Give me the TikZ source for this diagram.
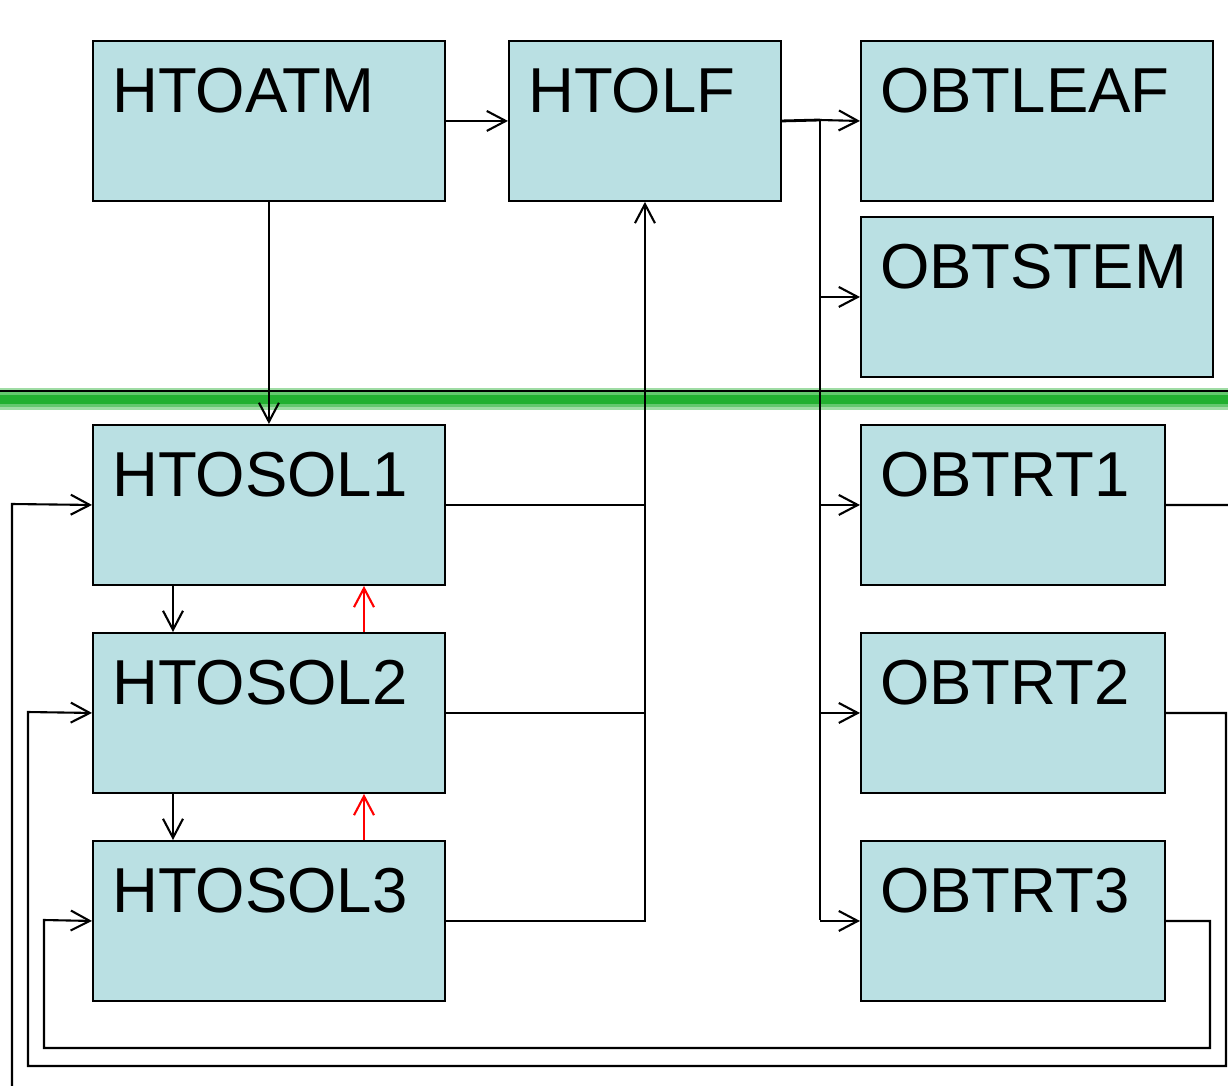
\documentclass[tikz,border=0pt]{standalone}
\usepackage{fontspec}
\setmainfont{Liberation Sans}
\usetikzlibrary{arrows.meta,calc}
\definecolor{boxfill}{RGB}{186,224,227}
\definecolor{gline}{RGB}{34,176,48}
\definecolor{glight}{RGB}{160,220,165}
\tikzset{
  box/.style={draw=black, line width=1.9pt, fill=boxfill, anchor=north west, inner sep=0pt, minimum height=160pt},
  wide/.style={box, minimum width=352pt},
  mid/.style={box, minimum width=272pt},
  narrow/.style={box, minimum width=304pt},
  lbl/.style={anchor=base west, inner sep=0pt, font=\fontsize{63.5}{76}\selectfont},
  conn/.style={line width=2.1pt, draw=black},
  arr/.style={conn, -{Straight Barb[length=19pt,width=20pt,line width=2.1pt]}},
  redarr/.style={arr, draw=red},
  bus/.style={line width=2.8pt, draw=black},
}
\begin{document}
\begin{tikzpicture}[x=1pt,y=-1pt]
\useasboundingbox (0,0) rectangle (1228,1085);
\clip (0,0) rectangle (1228,1085);
% ground line
\fill[glight] (0,388) rectangle (1228,410);
\fill[gline!70!white] (0,392) rectangle (1228,407);
\fill[gline] (0,395) rectangle (1228,404);
\draw[line width=2pt] (0,391) -- (1228,391);
% boxes
\node[wide] (atm) at (92,40) {};
\node[mid] (lf) at (508,40) {};
\node[wide] (leaf) at (860,40) {};
\node[wide] (stem) at (860,216) {};
\node[wide] (sol1) at (92,424) {};
\node[wide] (sol2) at (92,632) {};
\node[wide] (sol3) at (92,840) {};
\node[narrow] (rt1) at (860,424) {};
\node[narrow] (rt2) at (860,632) {};
\node[narrow] (rt3) at (860,840) {};
% labels
\node[lbl] (atmL) at ($(atm.north west)+(20,72)$) {HTOATM};
\node[lbl] (lfL) at ($(lf.north west)+(20,72)$) {HTOLF};
\node[lbl] (leafL) at ($(leaf.north west)+(20,72)$) {OBTLEAF};
\node[lbl] (stemL) at ($(stem.north west)+(20,72)$) {OBTSTEM};
\node[lbl] (sol1L) at ($(sol1.north west)+(20,72)$) {HTOSOL1};
\node[lbl] (sol2L) at ($(sol2.north west)+(20,72)$) {HTOSOL2};
\node[lbl] (sol3L) at ($(sol3.north west)+(20,72)$) {HTOSOL3};
\node[lbl] (rt1L) at ($(rt1.north west)+(20,72)$) {OBTRT1};
\node[lbl] (rt2L) at ($(rt2.north west)+(20,72)$) {OBTRT2};
\node[lbl] (rt3L) at ($(rt3.north west)+(20,72)$) {OBTRT3};
% top connectors
\draw[arr] (atm.east) -- (lf.west);
\draw[arr] (atm.south) -- (sol1.north);
\coordinate (busT) at (820,120);
\draw[bus] (lf.east) -- (busT);
\draw[arr] (busT) -- (leaf.west);
\draw[bus] (busT) -- (820,920);
\draw[arr] (stem.west -| busT) -- (stem.west);
\draw[arr] (rt1.west -| busT) -- (rt1.west);
\draw[arr] (rt2.west -| busT) -- (rt2.west);
\draw[arr] (rt3.west -| busT) -- (rt3.west);
% soil to HTOLF
\draw[arr] (sol3.east) -| (lf.south);
\draw[conn] (sol1.east) -- (sol1.east -| lf.south);
\draw[conn] (sol2.east) -- (sol2.east -| lf.south);
% between soil layers
\draw[arr] ([xshift=81pt]sol1.south west) -- ([xshift=81pt]sol2.north west);
\draw[arr] ([xshift=81pt]sol2.south west) -- ([xshift=81pt]sol3.north west);
\draw[redarr] ([xshift=272pt]sol2.north west) -- ([xshift=272pt]sol1.south west);
\draw[redarr] ([xshift=272pt]sol3.north west) -- ([xshift=272pt]sol2.south west);
% root feedback loops
\coordinate (r1c) at (1245,1100);
\coordinate (l1c) at (12,504);
\draw[arr] (rt1.east) -| (r1c) -| (l1c) -- (sol1.west);
\coordinate (r2c) at (1226,1066);
\coordinate (l2c) at (28,712);
\draw[arr] (rt2.east) -| (r2c) -| (l2c) -- (sol2.west);
\coordinate (r3c) at (1210,1048);
\coordinate (l3c) at (44,920);
\draw[arr] (rt3.east) -| (r3c) -| (l3c) -- (sol3.west);
\end{tikzpicture}
\end{document}
